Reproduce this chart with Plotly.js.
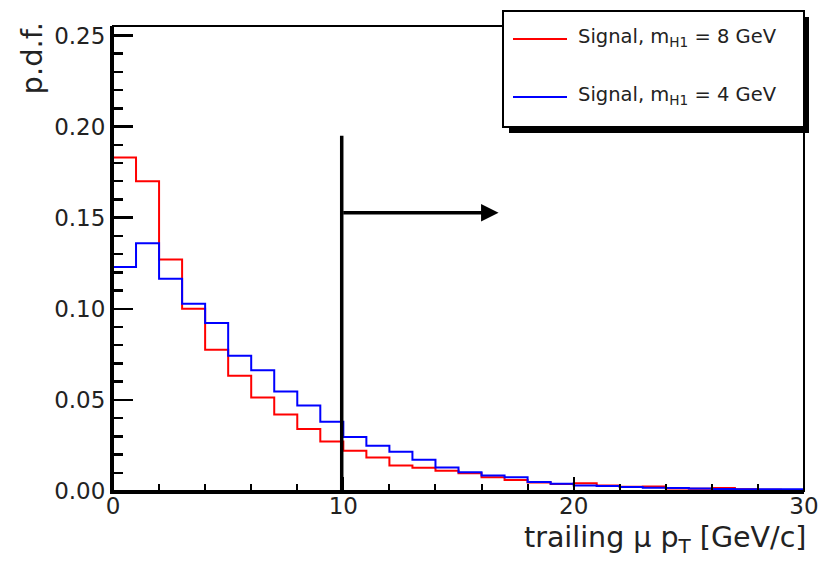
<!DOCTYPE html>
<html>
<head>
<meta charset="utf-8">
<script src="https://cdn.plot.ly/plotly-3.0.1.min.js"></script>
<style>html,body{margin:0;padding:0;background:#fff;}#chart{width:831px;height:568px;}</style>
</head>
<body>
<div id="chart"></div>
<script>
// ---- data ----
const binEdges = [0,1,2,3,4,5,6,7,8,9,10,11,12,13,14,15,16,17,18,19,20,21,22,23,24,25,26,27,28,29,30];
const seriesNames = ['Signal, m<sub>H1</sub> = 8 GeV', 'Signal, m<sub>H1</sub> = 4 GeV'];
const seriesColors = ['#ff0000', '#0000ff'];
const pdf8 = [0.183, 0.170, 0.127, 0.100, 0.0775, 0.0632, 0.0513, 0.042, 0.034, 0.0272,
              0.0221, 0.0184, 0.0140, 0.0127, 0.0111, 0.0097, 0.0075, 0.0061, 0.0046, 0.0039,
              0.0042, 0.0030, 0.0023, 0.0025, 0.0014, 0.0012, 0.0017, 0.0009, 0.0007, 0.0006];
const pdf4 = [0.123, 0.136, 0.1165, 0.1027, 0.0922, 0.0742, 0.0663, 0.0546, 0.0469, 0.038,
              0.0296, 0.0248, 0.0215, 0.0171, 0.0129, 0.0103, 0.0085, 0.0075, 0.0049, 0.0040,
              0.0030, 0.0027, 0.0022, 0.0018, 0.0017, 0.0014, 0.0011, 0.0010, 0.0009, 0.0009];
const xTickVals = [0, 10, 20, 30];
const cutX = 9.93;
const cutTop = 0.195;
const arrowY = 0.1527;
const arrowEnd = 16.74;
const xTitle = 'trailing \u03bc p<sub>T</sub> [GeV/c]';
const yTitle = 'p.d.f.';

// ---- layout geometry ----
const W = 831, H = 568, ML = 113, MR = 27, MT = 26, MB = 77;
const PW = W - ML - MR, PH = H - MT - MB;
const fx = p => (p - ML) / PW;
const fy = p => (H - MB - p) / PH;
const FONT = 'DejaVu Sans';

function stepTrace(vals, name, color) {
  const x = [binEdges[0]], y = [0];
  for (let i = 0; i < vals.length; i++) { x.push(binEdges[i]); y.push(vals[i]); }
  x.push(binEdges[binEdges.length - 1]); y.push(0);
  return {type: 'scatter', mode: 'lines', x: x, y: y, name: name,
          line: {shape: 'hv', color: color, width: 2}, hoverinfo: 'skip', showlegend: false};
}

const traces = [
  stepTrace(pdf8, seriesNames[0], seriesColors[0]),
  stepTrace(pdf4, seriesNames[1], seriesColors[1])
];

const legendRows = [39, 97];
const shapes = [
  {type: 'rect', xref: 'paper', yref: 'paper', x0: 0, x1: 1, y0: 0, y1: 1, line: {color: 'black', width: 2}, layer: 'above'},
  {type: 'line', xref: 'x', yref: 'y', x0: cutX, x1: cutX, y0: 0, y1: cutTop, line: {color: 'black', width: 3.5}, layer: 'above'},
  {type: 'rect', xref: 'paper', yref: 'paper', x0: fx(509), x1: fx(809), y0: fy(133), y1: fy(17), fillcolor: 'black', line: {width: 0}, layer: 'above'},
  {type: 'rect', xref: 'paper', yref: 'paper', x0: fx(503), x1: fx(804), y0: fy(127), y1: fy(11), fillcolor: 'white', line: {color: 'black', width: 2}, layer: 'above'}
];
const annotations = [
  {x: arrowEnd, y: arrowY, ax: cutX, ay: arrowY, xref: 'x', yref: 'y', axref: 'x', ayref: 'y',
   text: '', showarrow: true, arrowhead: 2, arrowsize: 1, arrowwidth: 3.5, arrowcolor: 'black', standoff: 0},
  {xref: 'paper', yref: 'paper', x: fx(807), y: fy(559), xanchor: 'right', yanchor: 'bottom', showarrow: false, borderpad: 0,
   text: xTitle, font: {family: FONT, size: 28.5, color: '#222'}},
  {xref: 'paper', yref: 'paper', x: fx(32), y: fy(20), xanchor: 'center', yanchor: 'top', textangle: -90, showarrow: false,
   text: yTitle, font: {family: FONT, size: 29, color: '#222'}}
];
for (let i = 0; i < seriesNames.length; i++) {
  shapes.push({type: 'line', xref: 'paper', yref: 'paper', x0: fx(513), x1: fx(567), y0: fy(legendRows[i]), y1: fy(legendRows[i]),
               line: {color: seriesColors[i], width: 2}, layer: 'above'});
  annotations.push({xref: 'paper', yref: 'paper', x: fx(576), y: fy(legendRows[i] - 1), xanchor: 'left', yanchor: 'middle',
                    showarrow: false, text: seriesNames[i], font: {family: FONT, size: 19.5, color: '#222'}});
}

const layout = {
  width: W, height: H,
  margin: {l: ML, r: MR, t: MT, b: MB, pad: 0},
  paper_bgcolor: 'white', plot_bgcolor: 'white',
  showlegend: false,
  xaxis: {range: [0, 30], tickvals: xTickVals, ticks: 'inside', ticklen: 14, tickwidth: 2, tickcolor: 'black',
          showline: true, linewidth: 3, linecolor: 'black', showgrid: false, zeroline: false,
          ticklabelstandoff: -8,
          tickfont: {family: FONT, size: 23, color: '#222'},
          minor: {dtick: 2, tick0: 0, ticks: 'inside', ticklen: 7, tickwidth: 2, tickcolor: 'black', showgrid: false}},
  yaxis: {range: [0, 0.2552], dtick: 0.05, tick0: 0, tickformat: '.2f', ticks: 'inside', ticklen: 20, tickwidth: 2.5, tickcolor: 'black',
          showline: true, linewidth: 3, linecolor: 'black', showgrid: false, zeroline: false,
          tickfont: {family: FONT, size: 23, color: '#222'},
          minor: {dtick: 0.01, tick0: 0, ticks: 'inside', ticklen: 10, tickwidth: 2.5, tickcolor: 'black', showgrid: false}},
  shapes: shapes,
  annotations: annotations
};

Plotly.newPlot('chart', traces, layout, {staticPlot: true, displayModeBar: false});
</script>
</body>
</html>
